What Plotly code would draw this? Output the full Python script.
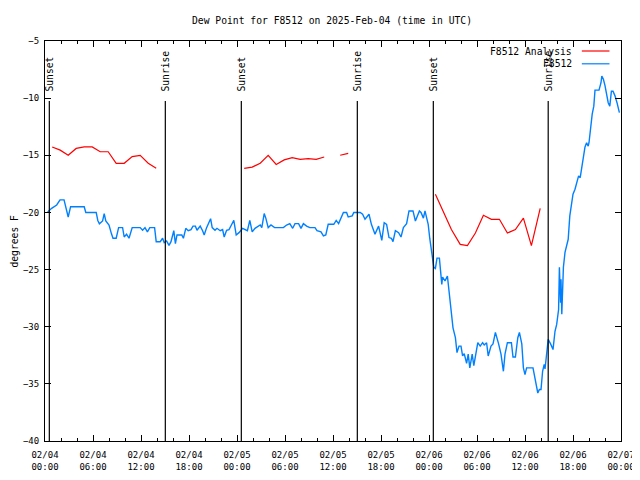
import plotly.graph_objects as go

# ---------------- data ----------------
# hours since 2025-02-04 00:00 UTC
obs_hours = [0.33, 0.83, 1.46, 1.88, 2.38, 2.6, 2.9, 3.2, 4.9, 5.1, 6.4, 6.6, 6.8, 7.2, 7.4, 7.6, 8.0, 8.3, 8.5, 8.9,
             9.2, 9.7, 9.9, 10.2, 10.5, 10.9, 11.9, 12.2, 12.5, 12.8, 13.1, 13.7, 13.9, 14.4, 14.7, 14.9, 15.2, 15.5,
             15.75, 16.1, 16.3, 16.5, 17.1, 17.3, 17.6, 17.9, 18.25, 18.5, 18.8, 19.0, 19.4, 19.7, 19.9, 20.2, 20.4,
             20.7, 20.9, 21.25, 21.5, 21.9, 22.2, 22.4, 22.7, 23.0, 23.3, 23.6, 23.9, 24.25, 24.7, 25.0, 25.3, 25.6,
             25.9, 26.25, 26.9, 27.1, 27.4, 27.6, 27.9, 28.25, 28.7, 29.8, 30.2, 30.6, 30.96, 31.25, 31.7, 32.0, 32.3,
             32.7, 33.1, 33.75, 34.0, 34.5, 34.8, 35.1, 35.4, 36.1, 36.4, 36.7, 37.3, 37.7, 37.9, 38.4, 38.6, 39.4,
             39.7, 40.0, 40.5, 40.8, 41.25, 41.7, 41.9, 42.1, 42.4, 42.7, 43.0, 43.3, 43.5, 43.8, 44.2, 44.5, 44.8,
             45.2, 45.5, 46.0, 46.3, 46.8, 47.0, 47.3, 47.5, 47.7, 47.9, 48.1, 48.3, 48.4, 48.6, 48.8, 49.0, 49.3,
             49.5, 49.6, 49.7, 50.0, 50.3, 50.5, 50.75, 51.0, 51.3, 51.5, 51.75, 52.0, 52.2, 52.4, 52.7, 52.9, 53.1,
             53.4, 53.6, 53.8, 54.1, 54.4, 54.7, 54.9, 55.2, 55.4, 55.75, 56.0, 56.3, 56.7, 57.0, 57.3, 57.5, 57.8,
             58.3, 58.5, 58.8, 59.1, 59.3, 59.6, 59.8, 60.0, 60.2, 61.0, 61.3, 61.6, 61.8, 62.0, 62.2, 62.4, 62.5,
             62.75, 62.9, 63.2, 63.5, 63.75, 63.96, 64.2, 64.3, 64.45, 64.5, 64.6, 64.8, 65.0, 65.2, 65.4, 65.6, 65.8,
             66.0, 66.25, 66.5, 66.7, 66.9, 67.1, 67.3, 67.5, 67.7, 67.9, 68.0, 68.2, 68.4, 68.6, 68.75, 69.25, 69.5,
             69.6, 69.8, 70.0, 70.2, 70.4, 70.6, 70.8, 71.0, 71.25, 71.5, 71.8]
obs_dewpoint = [-19.96, -19.64, -19.35, -18.9, -18.9, -19.6, -20.4, -19.5, -19.5, -20.0, -20.0, -20.7, -21.0, -20.75,
                -20.1, -20.75, -21.1, -21.85, -22.26, -22.26, -21.33, -21.33, -22.15, -21.9, -22.26, -21.33, -21.33,
                -21.56, -21.33, -21.7, -21.33, -21.33, -22.56, -22.56, -22.26, -22.65, -22.5, -22.88, -22.56, -21.6,
                -22.73, -21.97, -21.97, -22.26, -21.39, -21.6, -21.5, -21.2, -21.2, -21.56, -21.2, -21.6, -21.97,
                -21.33, -20.98, -20.55, -21.33, -21.56, -21.39, -21.6, -21.5, -22.15, -21.56, -21.5, -21.1, -20.7,
                -21.97, -21.77, -21.39, -21.48, -21.6, -20.7, -21.7, -21.39, -21.1, -21.33, -20.1, -20.5, -21.33,
                -21.1, -21.33, -21.33, -21.1, -20.98, -21.39, -20.98, -20.98, -21.39, -20.98, -21.19, -21.33, -21.33,
                -21.6, -21.7, -22.06, -21.97, -21.04, -21.04, -20.7, -20.98, -20.0, -20.0, -20.4, -20.3, -20.0, -20.0,
                -20.16, -20.6, -20.16, -21.04, -21.9, -21.19, -21.97, -22.44, -20.9, -21.04, -22.2, -22.26, -22.56,
                -21.6, -21.77, -22.15, -21.33, -20.98, -19.87, -19.87, -20.75, -19.87, -20.0, -20.5, -19.87, -20.45,
                -21.04, -22.3, -23.3, -24.25, -24.8, -24.9, -24.0, -24.0, -25.7, -26.3, -25.65, -26.0, -25.56, -26.9,
                -28.3, -30.1, -30.96, -32.27, -31.7, -31.7, -32.56, -32.36, -33.2, -32.4, -33.6, -32.4, -33.4, -32.56,
                -31.4, -31.7, -31.4, -31.6, -31.4, -32.56, -31.7, -31.5, -30.5, -31.5, -32.4, -33.9, -32.4, -31.4,
                -31.4, -32.65, -32.65, -30.96, -30.5, -31.5, -33.6, -34.2, -33.6, -33.6, -34.75, -35.8, -35.5, -35.5,
                -33.9, -33.3, -33.7, -32.06, -31.1, -31.5, -32.0, -30.4, -29.8, -28.5, -24.8, -27.9, -25.85, -28.9,
                -24.8, -23.5, -22.9, -22.35, -20.3, -19.3, -18.4, -17.97, -17.25, -16.8, -16.96, -16.1, -15.5, -14.27,
                -13.9, -14.2, -13.9, -12.3, -11.4, -10.7, -9.3, -9.3, -8.65, -8.06, -8.35, -8.9, -9.8, -10.4, -10.7,
                -9.4, -9.4, -9.8, -10.4, -11.27]

analysis_hours = [0.9, 1.9, 2.9, 3.9, 4.9, 5.9, 6.9, 7.9, 8.9, 9.9, 10.9, 11.9, 12.9, 13.9, None,
                  24.9, 25.9, 26.9, 27.9, 28.9, 29.9, 30.9, 31.9, 32.9, 33.9, 34.9, None, 36.9, 37.9, None,
                  48.8, 49.8, 50.8, 51.9, 52.8, 53.8, 54.8, 55.8, 56.8, 57.8, 58.8, 59.8, 60.8, 61.9]
analysis_dewpoint = [-14.27, -14.55, -15.0, -14.4, -14.27, -14.27, -14.69, -14.69, -15.7, -15.7, -15.12, -15.0,
                     -15.7, -16.14, None,
                     -16.14, -16.03, -15.7, -15.0, -15.8, -15.4, -15.2, -15.35, -15.3, -15.35, -15.15, None,
                     -15.0, -14.83, None,
                     -18.4, -20.0, -21.5, -22.8, -22.9, -21.8, -20.25, -20.6, -20.6, -21.8, -21.5, -20.5,
                     -22.9, -19.65]

sun_hours = [0.54, 15.04, 24.54, 39.04, 48.54, 62.9]
sun_labels = ["Sunset", "Sunrise", "Sunset", "Sunrise", "Sunset", "Sunrise"]

tick_hours = list(range(0, 73, 6))
tick_labels = ["02/04<br>00:00", "02/04<br>06:00", "02/04<br>12:00", "02/04<br>18:00",
               "02/05<br>00:00", "02/05<br>06:00", "02/05<br>12:00", "02/05<br>18:00",
               "02/06<br>00:00", "02/06<br>06:00", "02/06<br>12:00", "02/06<br>18:00",
               "02/07<br>00:00"]
y_ticks = [-40, -35, -30, -25, -20, -15, -10, -5]

series_names = ["F8512 Analysis", "F8512"]
series_colors = ["#ff0000", "#0080ff"]

FONT = "DejaVu Sans Mono"
FS_TICK = 9
FS_TEXT = 9.7

# the page body adds ~8px (x) / 7px (y) offset; size the figure to fill the rest
W, H = 632, 473

fig = go.Figure()
fig.add_trace(go.Scatter(x=analysis_hours, y=analysis_dewpoint, mode="lines", name=series_names[0],
                         line=dict(color=series_colors[0], width=1.2), connectgaps=False, showlegend=False))
fig.add_trace(go.Scatter(x=obs_hours, y=obs_dewpoint, mode="lines", name=series_names[1],
                         line=dict(color=series_colors[1], width=1.4), showlegend=False))

shapes = []
annotations = []
for h, lab in zip(sun_hours, sun_labels):
    shapes.append(dict(type="line", xref="x", yref="paper", x0=h, x1=h, y0=0, y1=0.85,
                       line=dict(color="black", width=1.2)))
    annotations.append(dict(x=h, y=0.868, xref="x", yref="paper", text=lab, textangle=-90,
                            showarrow=False, xanchor="center", yanchor="bottom",
                            font=dict(family=FONT, size=FS_TEXT, color="black")))

# legend (gnuplot style: text right-aligned, sample line to its right)
leg_y = [0.975, 0.943]
for name, col, yy in zip(series_names, series_colors, leg_y):
    annotations.append(dict(x=0.918, y=yy, xref="paper", yref="paper", text=name, showarrow=False,
                            xanchor="right", yanchor="middle", font=dict(family=FONT, size=FS_TEXT, color="black")))
    shapes.append(dict(type="line", xref="paper", yref="paper", x0=0.932, x1=0.98, y0=yy, y1=yy,
                       line=dict(color=col, width=1.2)))

# y-axis title
annotations.append(dict(x=-0.0545, y=0.5, xref="paper", yref="paper", text="degrees F", textangle=-90,
                        showarrow=False, xanchor="center", yanchor="middle",
                        font=dict(family=FONT, size=FS_TEXT, color="black")))

fig.update_layout(
    width=W, height=H,
    margin=dict(l=37, r=19, t=33, b=40, autoexpand=False),
    paper_bgcolor="white", plot_bgcolor="white",
    font=dict(family=FONT, size=FS_TICK, color="black"),
    title=dict(text="Dew Point for F8512 on 2025-Feb-04 (time in UTC)", x=324 / W, xanchor="center",
               xref="container", yref="container", y=1 - 13 / H, yanchor="middle",
               font=dict(family=FONT, size=FS_TEXT, color="black")),
    shapes=shapes, annotations=annotations,
)
fig.update_xaxes(range=[0, 72], tickmode="array", tickvals=tick_hours, ticktext=tick_labels,
                 ticks="inside", ticklen=6, tickcolor="black", showline=True, linecolor="black", linewidth=1,
                 mirror="ticks", showgrid=False, zeroline=False, automargin=False, ticklabelstandoff=5,
                 minor=dict(dtick=2, tick0=0, ticks="inside", ticklen=3, tickcolor="black", showgrid=False))
fig.update_yaxes(range=[-40, -5], tickmode="array", tickvals=y_ticks, ticks="inside", ticklen=6,
                 tickcolor="black", showline=True, linecolor="black", linewidth=1, mirror="ticks",
                 showgrid=False, zeroline=False, automargin=False, ticklabelstandoff=3)

fig.write_html("out.html")
